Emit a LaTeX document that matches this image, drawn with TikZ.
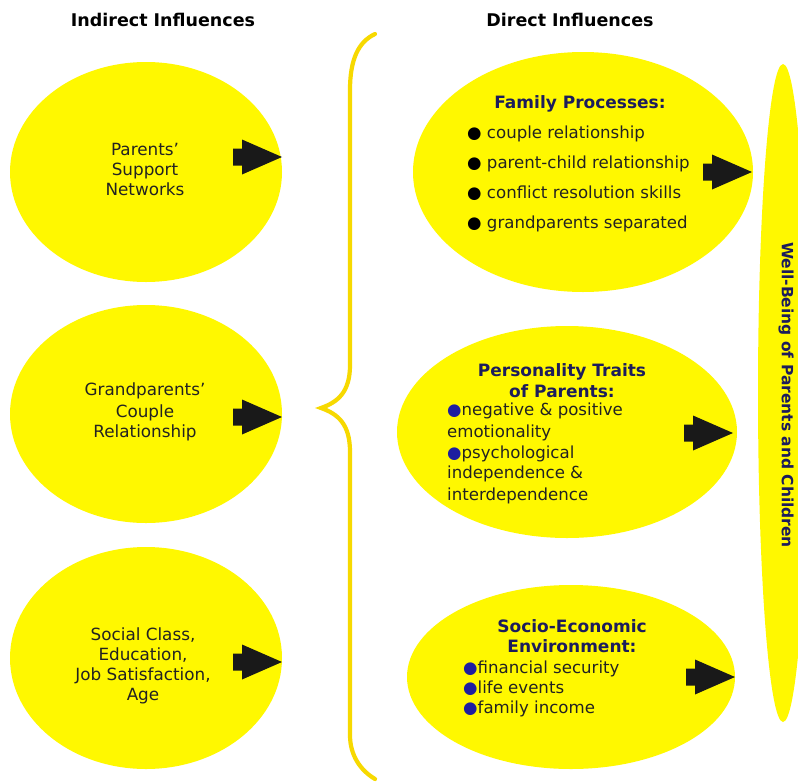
\documentclass[tikz,border=0pt]{standalone}
\usepackage{fontspec}
\setmainfont{DejaVu Sans}
\usetikzlibrary{shapes.geometric}
\definecolor{ellyellow}{HTML}{FFF800}
\definecolor{bracegold}{HTML}{F7D900}
\definecolor{navytext}{HTML}{1C1C5C}
\definecolor{bodytext}{HTML}{222222}
\definecolor{bulblue}{HTML}{1E1EA0}
\newcommand{\bbul}{{\color{bulblue}●}}
\newcommand{\kbul}{{\color{black}●}\ }
\tikzset{
  blob/.style={ellipse, fill=ellyellow, draw=none, inner sep=0pt},
  hdr/.style={font=\fontsize{17.5}{20}\selectfont\bfseries, text=black, anchor=base, inner sep=0pt},
  lbl/.style={font=\fontsize{16.8}{19}\selectfont, text=bodytext, anchor=base, inner sep=0pt},
  ttl/.style={font=\fontsize{17}{19}\selectfont\bfseries, text=navytext, anchor=base, inner sep=0pt},
  itm/.style={font=\fontsize{16.6}{19}\selectfont, text=bodytext, anchor=base west, inner sep=0pt},
  blockarrow/.pic={\fill[black!90] (-49,-8.5) -- (-40,-8.5) -- (-40,-17.5) -- (0,0) -- (-40,17.5) -- (-40,8.5) -- (-49,8.5) -- cycle;}
}
\begin{document}
\begin{tikzpicture}[x=1pt,y=-1pt]
\useasboundingbox (0,0) rectangle (798,782);
\fill[white] (0,0) rectangle (798,782);

% headers
\node[hdr] (hind) at (163,26) {Indirect Influences};
\node[hdr] (hdir) at (570,26) {Direct Influences};

% left ellipses
\node[blob, minimum width=272, minimum height=220] (l1) at (146,172) {};
\node[blob, minimum width=272, minimum height=218] (l2) at (146,414) {};
\node[blob, minimum width=272, minimum height=222] (l3) at (146,658) {};

\node[lbl] (l1a) at (145,155) {Parents’};
\node[lbl] (l1b) at (145,175) {Support};
\node[lbl] (l1c) at (145,195) {Networks};

\node[lbl] (l2a) at (145,395) {Grandparents’};
\node[lbl] (l2b) at (145,417) {Couple};
\node[lbl] (l2c) at (145,437) {Relationship};

\node[lbl] (l3a) at (143,640) {Social Class,};
\node[lbl] (l3b) at (143,660) {Education,};
\node[lbl] (l3c) at (143,680) {Job Satisfaction,};
\node[lbl] (l3d) at (143,700) {Age};

\pic at (282,157) {blockarrow};
\pic at (282,417) {blockarrow};
\pic at (282,662) {blockarrow};

% brace
\draw[bracegold, line width=4.2pt, line cap=round]
  (375,34) .. controls (358,42) and (350,60) .. (350,90)
  -- (350,365) .. controls (350,392) and (338,402) .. (321,408)
  .. controls (338,414) and (350,424) .. (350,452)
  -- (350,735) .. controls (350,755) and (360,770) .. (375,779);

% right ellipses
\node[blob, minimum width=340, minimum height=240] (r1) at (583,172) {};
\node[blob, minimum width=340, minimum height=212] (r2) at (567,432) {};
\node[blob, minimum width=328, minimum height=184] (r3) at (571,677) {};

% tall ellipse
\node[blob, minimum width=50, minimum height=658] (wb) at (783,393) {};
\node[font=\fontsize{15.5}{18}\selectfont\bfseries, text=navytext, rotate=-90, inner sep=0pt] (wbt) at (786,395) {Well-Being of Parents and Children};

% right texts
\node[ttl] (r1t) at (580,108) {Family Processes:};
\node[itm] (r1a) at (467,138) {\kbul couple relationship};
\node[itm] (r1b) at (467,168) {\kbul parent-child relationship};
\node[itm] (r1c) at (467,198) {\kbul conflict resolution skills};
\node[itm] (r1d) at (467,228) {\kbul grandparents separated};

\node[ttl] (r2t) at (562,376) {Personality Traits};
\node[ttl] (r2u) at (562,397) {of Parents:};
\node[itm] (r2a) at (447,415) {\bbul negative \& positive};
\node[itm] (r2b) at (447,437) {emotionality};
\node[itm] (r2c) at (447,458) {\bbul psychological};
\node[itm] (r2d) at (447,478) {independence \&};
\node[itm] (r2e) at (447,500) {interdependence};

\node[ttl] (r3t) at (572,632) {Socio-Economic};
\node[ttl] (r3u) at (572,652) {Environment:};
\node[itm] (r3a) at (463,673) {\bbul financial security};
\node[itm] (r3b) at (463,693) {\bbul life events};
\node[itm] (r3c) at (463,713) {\bbul family income};

\pic at (752,172) {blockarrow};
\pic at (733,433) {blockarrow};
\pic at (735,677) {blockarrow};
\end{tikzpicture}
\end{document}
